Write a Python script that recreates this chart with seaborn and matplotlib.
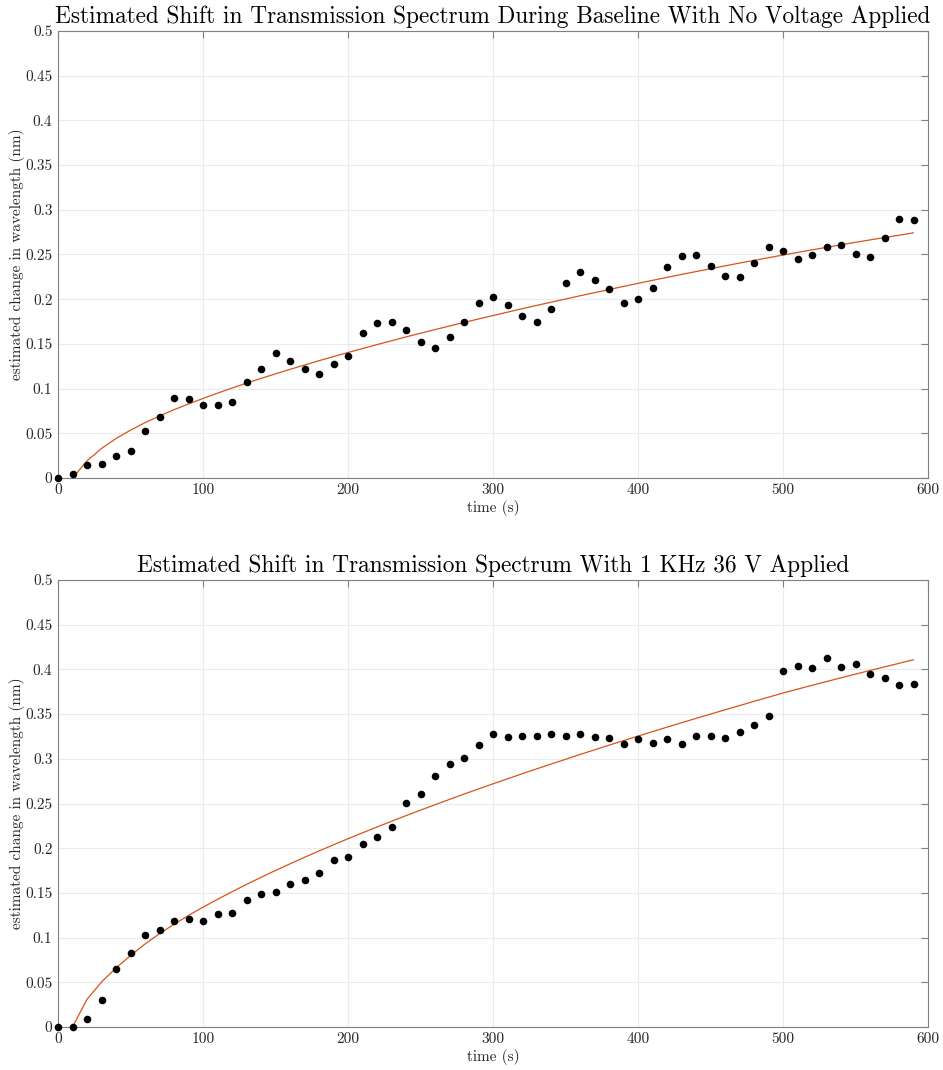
import numpy as np
import pandas as pd
import matplotlib
matplotlib.use("Agg")
import matplotlib.pyplot as plt
from matplotlib.ticker import FuncFormatter, MultipleLocator
import seaborn as sns

# ---- data ----
time_s = list(range(0, 600, 10))

baseline_shift = [0.000, 0.005, 0.015, 0.016, 0.025, 0.030, 0.053, 0.068, 0.090, 0.088,
                  0.082, 0.082, 0.085, 0.107, 0.122, 0.140, 0.131, 0.122, 0.116, 0.127,
                  0.137, 0.162, 0.173, 0.174, 0.165, 0.152, 0.145, 0.158, 0.175, 0.196,
                  0.202, 0.194, 0.181, 0.175, 0.189, 0.218, 0.230, 0.222, 0.211, 0.196,
                  0.200, 0.212, 0.236, 0.248, 0.249, 0.237, 0.226, 0.225, 0.241, 0.258,
                  0.254, 0.245, 0.250, 0.258, 0.261, 0.251, 0.247, 0.269, 0.290, 0.289]

voltage_shift = [0.000, 0.000, 0.009, 0.030, 0.065, 0.083, 0.103, 0.109, 0.119, 0.121,
                 0.119, 0.126, 0.128, 0.142, 0.149, 0.151, 0.160, 0.164, 0.172, 0.187,
                 0.190, 0.205, 0.212, 0.224, 0.251, 0.261, 0.281, 0.294, 0.301, 0.315,
                 0.328, 0.324, 0.326, 0.326, 0.328, 0.325, 0.328, 0.324, 0.323, 0.316,
                 0.322, 0.318, 0.322, 0.316, 0.325, 0.325, 0.323, 0.330, 0.338, 0.348,
                 0.398, 0.404, 0.402, 0.413, 0.403, 0.406, 0.395, 0.390, 0.383, 0.384]

fit_time = list(range(10, 600, 10))

baseline_fit = [0.0000, 0.0192, 0.0330, 0.0442, 0.0535, 0.0619, 0.0694, 0.0764, 0.0828, 0.0890,
                0.0949, 0.1006, 0.1061, 0.1114, 0.1165, 0.1215, 0.1264, 0.1312, 0.1358, 0.1404,
                0.1448, 0.1492, 0.1535, 0.1578, 0.1619, 0.1660, 0.1700, 0.1740, 0.1779, 0.1817,
                0.1855, 0.1893, 0.1930, 0.1966, 0.2002, 0.2038, 0.2073, 0.2108, 0.2143, 0.2177,
                0.2211, 0.2244, 0.2277, 0.2309, 0.2341, 0.2373, 0.2404, 0.2434, 0.2464, 0.2494,
                0.2523, 0.2552, 0.2580, 0.2608, 0.2636, 0.2663, 0.2690, 0.2716, 0.2742]

voltage_fit = [0.0000, 0.0310, 0.0503, 0.0660, 0.0800, 0.0928, 0.1044, 0.1149, 0.1248, 0.1340,
               0.1428, 0.1513, 0.1595, 0.1674, 0.1751, 0.1825, 0.1898, 0.1969, 0.2038, 0.2106,
               0.2172, 0.2237, 0.2301, 0.2364, 0.2426, 0.2486, 0.2546, 0.2605, 0.2663, 0.2720,
               0.2776, 0.2832, 0.2887, 0.2941, 0.2994, 0.3048, 0.3100, 0.3152, 0.3203, 0.3254,
               0.3304, 0.3354, 0.3403, 0.3452, 0.3500, 0.3548, 0.3595, 0.3643, 0.3689, 0.3736,
               0.3779, 0.3822, 0.3864, 0.3906, 0.3947, 0.3988, 0.4028, 0.4068, 0.4108]

titles = ["Estimated Shift in Transmission Spectrum During Baseline With No Voltage Applied",
          "Estimated Shift in Transmission Spectrum With 1 KHz 36 V Applied"]
x_label = "time (s)"
y_label = "estimated change in wavelength (nm)"

# ---- style ----
sns.set_theme(style="white")
plt.rcParams["font.family"] = ["cmr10", "DejaVu Serif"]
plt.rcParams["mathtext.fontset"] = "cm"
plt.rcParams["axes.formatter.use_mathtext"] = True

axis_gray = "#7f7f7f"
fit_color = "#D95319"

fig = plt.figure(figsize=(9.43, 10.70), dpi=100)
ax_top = fig.add_axes([58 / 943, 1 - 478 / 1070, 870 / 943, 447 / 1070])
ax_bot = fig.add_axes([58 / 943, 1 - 1027 / 1070, 870 / 943, 447 / 1070])

panels = [
    (ax_top, baseline_shift, baseline_fit, titles[0]),
    (ax_bot, voltage_shift, voltage_fit, titles[1]),
]

fmt = FuncFormatter(lambda v, p: f"{v:g}")

for ax, pts, fit, title in panels:
    dpts = pd.DataFrame({"t": time_s, "y": pts})
    dfit = pd.DataFrame({"t": fit_time, "y": fit})
    sns.lineplot(data=dfit, x="t", y="y", ax=ax, color=fit_color, linewidth=0.9, zorder=2)
    sns.scatterplot(data=dpts, x="t", y="y", ax=ax, color="black", s=30,
                    edgecolor="black", linewidth=0, zorder=3, clip_on=False)
    ax.set_xlim(0, 600)
    ax.set_ylim(0, 0.5)
    ax.xaxis.set_major_locator(MultipleLocator(100))
    ax.yaxis.set_major_locator(MultipleLocator(0.05))
    ax.xaxis.set_major_formatter(fmt)
    ax.yaxis.set_major_formatter(fmt)
    ax.grid(True, color="#ebebeb", linewidth=0.8)
    ax.set_axisbelow(True)
    for sp in ax.spines.values():
        sp.set_visible(True)
        sp.set_color(axis_gray)
        sp.set_linewidth(0.8)
    ax.tick_params(axis="both", which="major", direction="in", length=5, width=0.8,
                   color=axis_gray, labelcolor="#262626", labelsize=11,
                   top=True, right=True, pad=4)
    ax.set_xlabel(x_label, fontsize=11, color="#262626", labelpad=2)
    ax.set_ylabel(y_label, fontsize=11, color="#262626")
    ax.yaxis.set_label_coords(-0.038, 0.5)
    ax.set_title(title, fontsize=16.8, color="black", pad=6)

fig.savefig("out.png", dpi=100)
